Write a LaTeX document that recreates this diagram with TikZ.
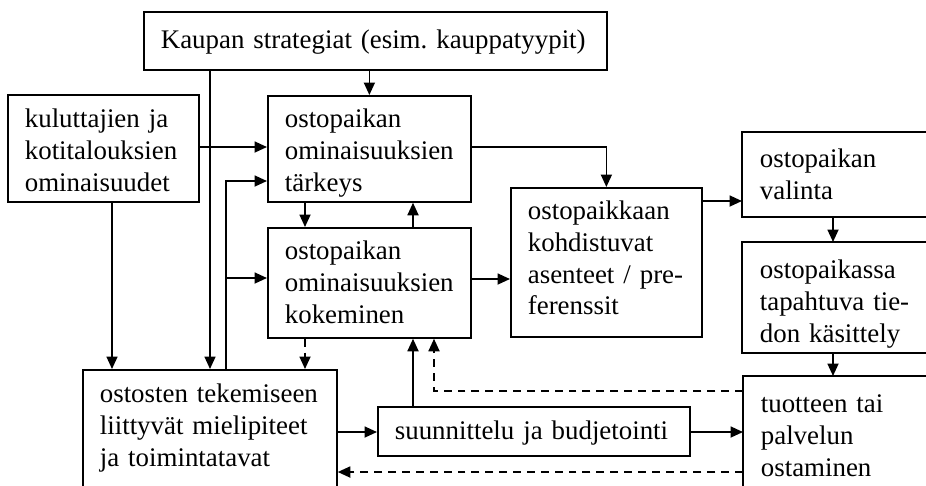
\documentclass[tikz,border=0pt]{standalone}
\usepackage{fontspec}
\setmainfont{Liberation Serif}
\usetikzlibrary{arrows.meta}
\hyphenpenalty=10000\relax
\frenchspacing

% box: width, height, first baseline (all in px of the sketch)
\tikzset{
  box/.style n args={3}{draw, line width=1pt, anchor=north west, align=left,
    inner xsep=0.34cm, inner ysep=0pt,
    /utils/exec={\pgfmathsetlengthmacro\boxw{#1*0.02cm-0.68cm}%
      \pgfmathsetlengthmacro\boxh{#3*0.02cm}%
      \pgfmathsetlengthmacro\boxd{(#2-#3)*0.02cm}},
    text width=\boxw, text height=\boxh, text depth=\boxd},
  edgebox/.style n args={3}{box={#1}{#2}{#3}, draw=none},
  rim/.style={line width=1pt},
  arr/.style={-{Triangle[length=0.25cm,width=0.22cm]}, line width=1pt},
  darr/.style={arr, dash pattern=on 4.5pt off 3.4pt}
}

\begin{document}
\begin{tikzpicture}[x=0.02cm,y=-0.02cm,
  font=\fontsize{15.3pt}{18pt}\selectfont]
\useasboundingbox (0,0) rectangle (926,485);

% --- boxes ---
\node[box={463}{58}{37}] (kaupan) at (143,11) {\mbox{Kaupan strategiat (esim. kauppatyypit)}};
\node[box={191}{107}{33}] (kuluttajien) at (7,94) {kuluttajien ja\\kotitalouksien\\ominaisuudet};
\node[box={203}{106}{32}] (tarkeys) at (267,95) {ostopaikan\\ominaisuuksien\\tärkeys};
\node[box={203}{110}{32}] (kokeminen) at (267,227) {ostopaikan\\ominaisuuksien\\kokeminen};
\node[box={191}{149}{32}] (ostopaikkaan) at (510,187) {ostopaikkaan\\kohdistuvat\\asenteet / pre-\\ferenssit};
\node[box={254}{140}{33}] (ostosten) at (82,369) {ostosten tekemiseen\\liittyvät mielipiteet\\ja toimintatavat};
\node[box={312}{49}{33}] (suunnittelu) at (377,406) {\mbox{suunnittelu ja budjetointi}};

% --- boxes cut by the right edge ---
\node[edgebox={184}{83}{35}] (valinta) at (742,132) {ostopaikan\\valinta};
\node[edgebox={184}{109}{36}] (ostopaikassa) at (742,242) {ostopaikassa\\tapahtuva tie-\\don käsittely};
\node[edgebox={183}{130}{36}] (tuotteen) at (743,376) {tuotteen tai\\palvelun\\ostaminen};
\draw[rim] (valinta.north east) -| (valinta.south west) -- (valinta.south east);
\draw[rim] (ostopaikassa.north east) -| (ostopaikassa.south west) -- (ostopaikassa.south east);
\draw[rim] (tuotteen.north east) -| (tuotteen.south west);

% --- from the strategies ---
\draw[arr] (tarkeys.north |- kaupan.south) -- (tarkeys.north);
\draw[arr] (kaupan.south -| 210,0) -- (ostosten.north -| 210,0);

% --- from the consumers ---
\draw[arr] (kuluttajien.east |- 0,147) -- (tarkeys.west |- 0,147);
\draw[arr] (kuluttajien.south -| 112,0) -- (ostosten.north -| 112,0);

% --- back from the shopping habits ---
\draw[arr] (ostosten.north -| 226,0) |- (tarkeys.west |- 0,181);
\draw[arr] (226,278) -- (kokeminen.west |- 0,278);

% --- importance and experience ---
\draw[arr] (tarkeys.south -| 305,0) -- (kokeminen.north -| 305,0);
\draw[arr] (kokeminen.north -| 413,0) -- (tarkeys.south -| 413,0);
\draw[darr] (kokeminen.south -| 305,0) -- (ostosten.north -| 305,0);

% --- towards the choice ---
\draw[arr] (tarkeys.east |- 0,147) -| (ostopaikkaan.north);
\draw[arr] (kokeminen.east |- 0,279) -- (ostopaikkaan.west |- 0,279);
\draw[arr] (ostopaikkaan.east |- 0,201) -- (valinta.west |- 0,201);
\draw[arr] (valinta.south -| 833,0) -- (ostopaikassa.north -| 833,0);
\draw[arr] (ostopaikassa.south -| 833,0) -- (tuotteen.north -| 833,0);

% --- bottom row ---
\draw[arr] (ostosten.east |- 0,432) -- (suunnittelu.west |- 0,432);
\draw[arr] (suunnittelu.east |- 0,432) -- (tuotteen.west |- 0,432);
\draw[arr] (suunnittelu.north -| 413,0) -- (kokeminen.south -| 413,0);
\draw[darr] (tuotteen.west |- 0,391) -| (kokeminen.south -| 434,0);
\draw[darr] (tuotteen.west |- 0,472) -- (ostosten.east |- 0,472);
\end{tikzpicture}
\end{document}
